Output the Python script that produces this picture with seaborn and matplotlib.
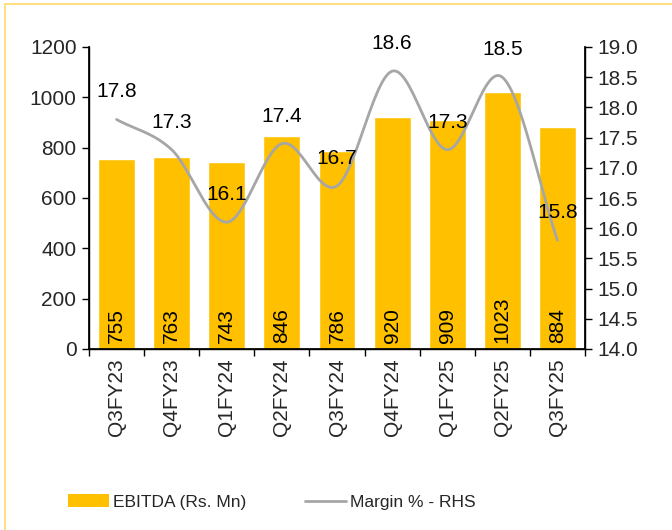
import numpy as np
import pandas as pd
import matplotlib
matplotlib.use("Agg")
import matplotlib.pyplot as plt
import seaborn as sns
from matplotlib.patches import Rectangle, Patch
from matplotlib.lines import Line2D

quarters = ["Q3FY23", "Q4FY23", "Q1FY24", "Q2FY24", "Q3FY24", "Q4FY24", "Q1FY25", "Q2FY25", "Q3FY25"]
ebitda = [755, 763, 743, 846, 786, 920, 909, 1023, 884]
margin = [17.8, 17.3, 16.1, 17.4, 16.7, 18.6, 17.3, 18.5, 15.8]

sns.set_theme(style="white")
plt.rcParams["font.family"] = ["Liberation Sans", "DejaVu Sans"]
FS = 15
LFS = 12.5

fig = plt.figure(figsize=(6.72, 5.30), dpi=100)
ax = fig.add_axes([89 / 672, 1 - 349 / 530, (585 - 89) / 672, (349 - 47) / 530])

df = pd.DataFrame({"q": quarters, "ebitda": ebitda, "margin": margin})
sns.barplot(data=df, x="q", y="ebitda", color="#FFC000", width=0.67, saturation=1, ax=ax)

ax.set_ylim(0, 1200)
ax.set_yticks(range(0, 1201, 200))
ax.set_xlim(-0.5, len(quarters) - 0.5)
ax.set_xlabel("")
ax.set_ylabel("")
ax.set_xticks(range(len(quarters)))
ax.set_xticklabels(quarters, rotation=90, fontsize=FS)
ax.set_xticks(np.arange(-0.5, len(quarters), 1.0), minor=True)
ax.tick_params(axis="x", which="major", length=0, pad=7)
ax.tick_params(axis="x", which="minor", length=5, width=1, color="black", direction="out", bottom=True)
ax.tick_params(axis="y", length=5, width=1, color="black", direction="out", left=True, labelsize=FS, pad=4)
for s in ["left", "bottom", "right"]:
    ax.spines[s].set_visible(True)
    ax.spines[s].set_color("black")
    ax.spines[s].set_linewidth(1)
ax.spines["top"].set_visible(False)

for i, v in enumerate(ebitda):
    ax.annotate(str(v), (i, 0), xytext=(0, 4), textcoords="offset points",
                rotation=90, ha="center", va="bottom", fontsize=FS, color="black")

ax2 = ax.twinx()
ax2.set_ylim(14, 19)
ax2.set_yticks(np.arange(14, 19.01, 0.5))
ax2.set_yticklabels([f"{t:.1f}" for t in np.arange(14, 19.01, 0.5)])
ax2.tick_params(axis="y", length=5, width=1, color="black", direction="out", right=True, labelsize=FS, pad=4)
for s in ["left", "bottom", "right"]:
    ax2.spines[s].set_visible(True)
    ax2.spines[s].set_color("black")
ax2.spines["top"].set_visible(False)
ax2.grid(False)
ax.grid(False)

# smoothed line (Catmull-Rom through the data points)
xs = np.arange(len(margin), dtype=float)
ys = np.array(margin, dtype=float)
px = np.concatenate([[2 * xs[0] - xs[1]], xs, [2 * xs[-1] - xs[-2]]])
py = np.concatenate([[2 * ys[0] - ys[1]], ys, [2 * ys[-1] - ys[-2]]])
cx, cy = [], []
t = np.linspace(0, 1, 30)
for k in range(1, len(px) - 2):
    p0x, p1x, p2x, p3x = px[k - 1:k + 3]
    p0y, p1y, p2y, p3y = py[k - 1:k + 3]
    for arr, (a0, a1, a2, a3) in ((cx, (p0x, p1x, p2x, p3x)), (cy, (p0y, p1y, p2y, p3y))):
        arr.extend(0.5 * ((2 * a1) + (-a0 + a2) * t + (2 * a0 - 5 * a1 + 4 * a2 - a3) * t ** 2
                          + (-a0 + 3 * a1 - 3 * a2 + a3) * t ** 3))
sns.lineplot(x=cx, y=cy, ax=ax2, color="#A6A6A6", linewidth=2, sort=False, estimator=None)

for i, m in enumerate(margin):
    ax2.annotate(f"{m:.1f}", (i, m), xytext=(0, 13), textcoords="offset points",
                 ha="center", va="bottom", fontsize=FS, color="black")

handles = [Patch(facecolor="#FFC000", edgecolor="none"),
           Line2D([0], [0], color="#A6A6A6", linewidth=2)]
fig.legend(handles, ["EBITDA (Rs. Mn)", "Margin % - RHS"], loc="center",
           bbox_to_anchor=(0.405, 1 - 502 / 530), ncol=2, frameon=False, fontsize=LFS,
           handlelength=2.36, handleheight=0.75, handletextpad=0.23, columnspacing=3.4)

fig.patches.append(Rectangle((5 / 672, -0.1), 1.2, 1 - 4 / 530 + 0.1, transform=fig.transFigure,
                             fill=False, edgecolor="#FFD966", linewidth=1.2, zorder=0))

fig.savefig("out.png", dpi=100)
